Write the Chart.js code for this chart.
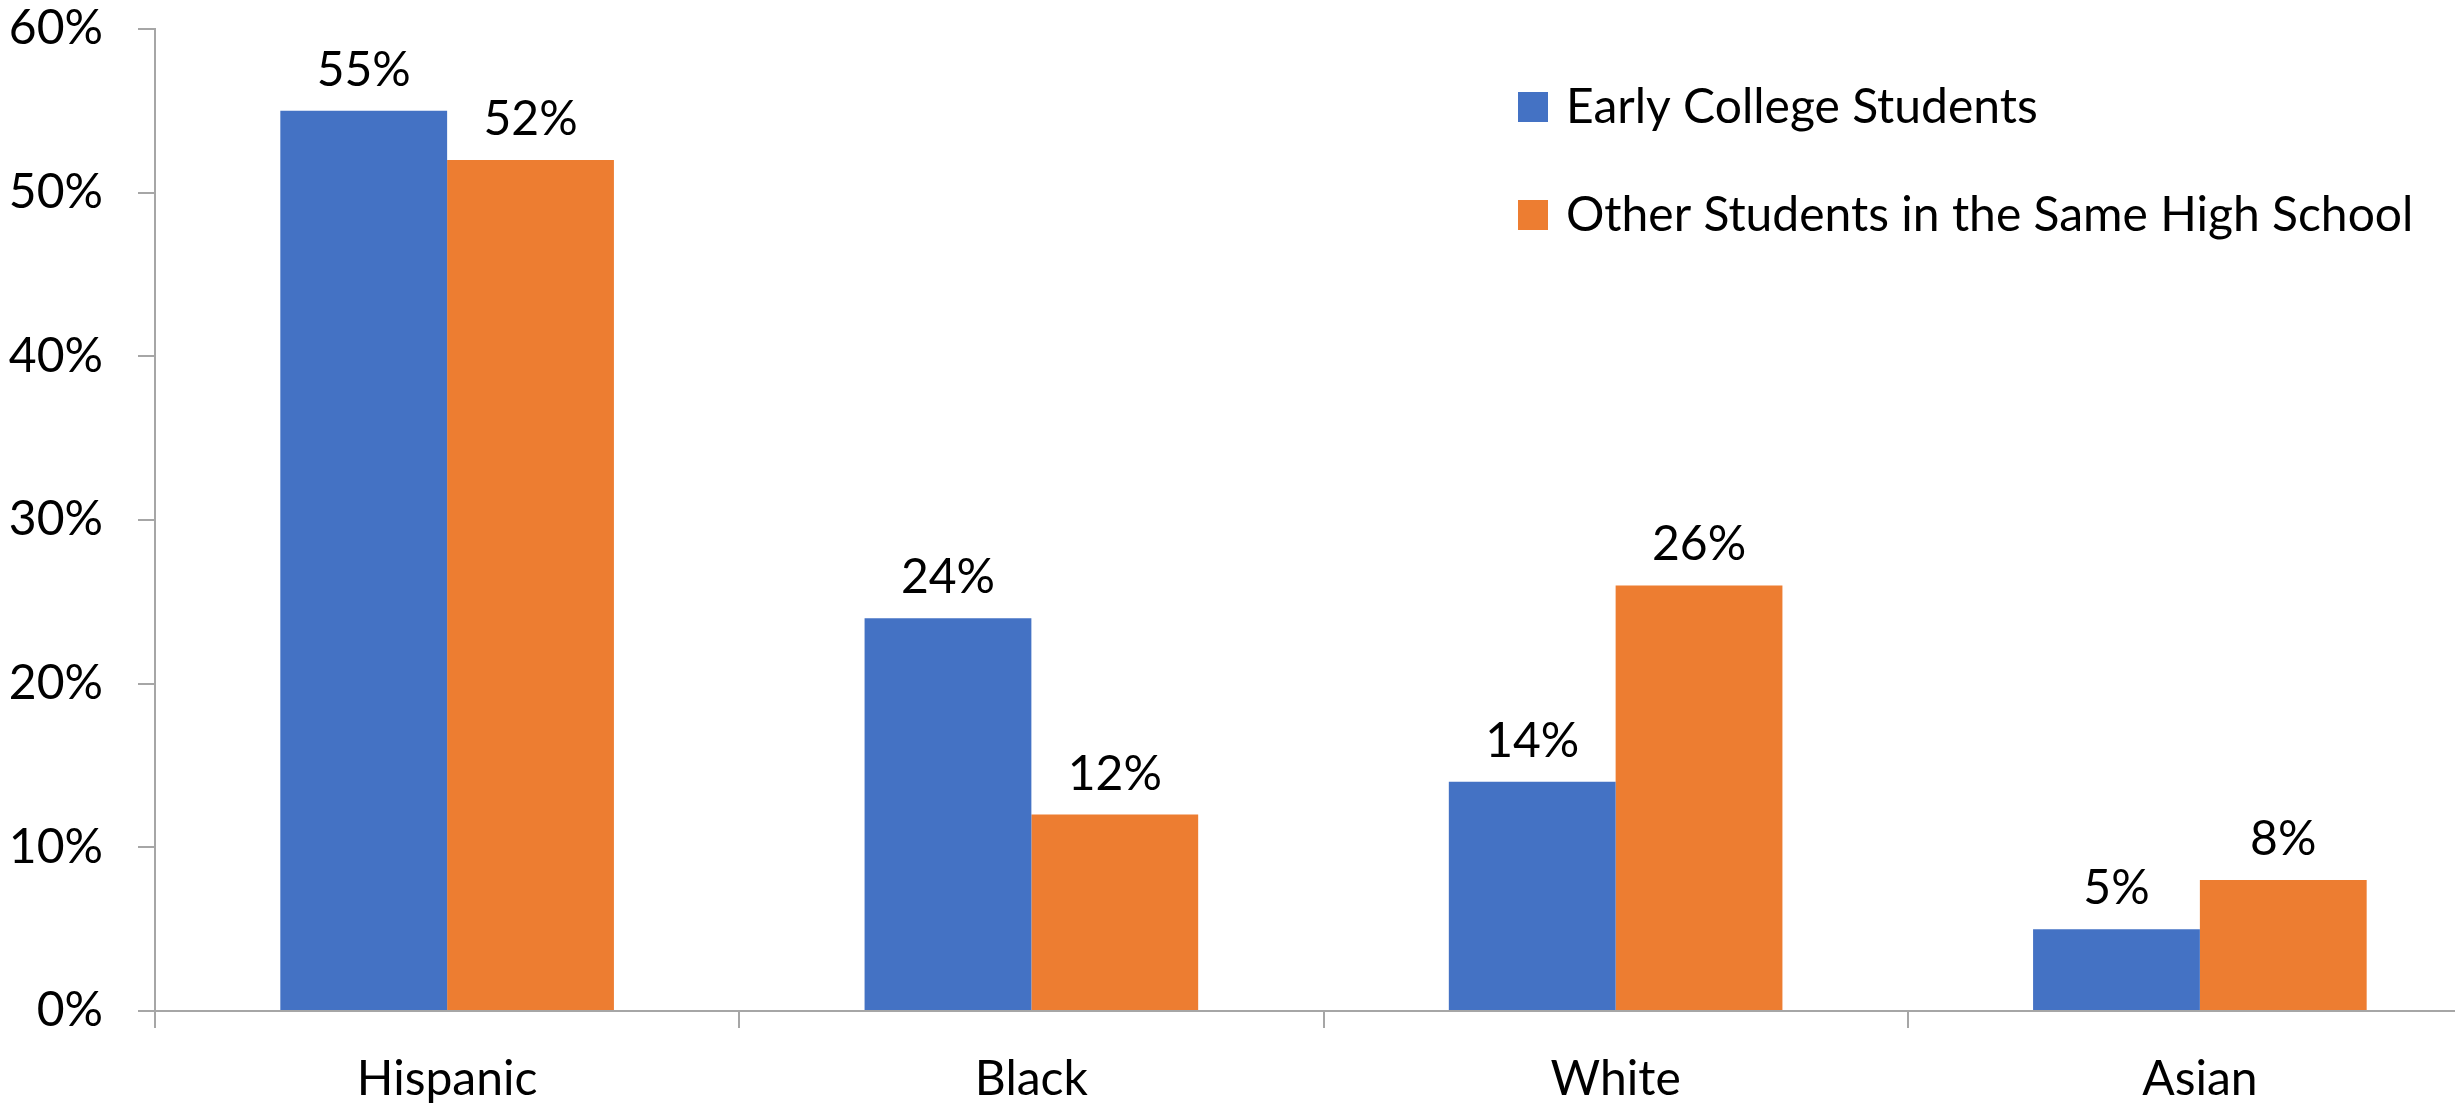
<!DOCTYPE html>
<html>
<head>
<meta charset="utf-8">
<script src="https://cdn.jsdelivr.net/npm/chart.js@4/dist/chart.umd.min.js"></script>
<style>
  html, body { margin: 0; padding: 0; background: #fff; overflow: hidden; }
  #wrap { width: 2455px; height: 1106px; overflow: hidden; }
</style>
</head>
<body>
<div id="wrap"><canvas id="chart" width="2500" height="1106"></canvas></div>
<script>
var categories = ['Hispanic', 'Black', 'White', 'Asian'];
var earlyCollege = [55, 24, 14, 5];
var otherStudents = [52, 12, 26, 8];
var seriesNames = ['Early College Students', 'Other Students in the Same High School'];
var yTicks = [0, 10, 20, 30, 40, 50, 60];

var axisGray = '#a6a6a6';
var fontName = 'Lato, "Open Sans", sans-serif';

// value labels above each bar
var barLabels = {
  id: 'barLabels',
  afterDatasetsDraw: function(chart) {
    var ctx = chart.ctx;
    ctx.save();
    ctx.font = '48px ' + fontName;
    ctx.fillStyle = '#000';
    ctx.textAlign = 'center';
    ctx.textBaseline = 'alphabetic';
    chart.data.datasets.forEach(function(ds, i) {
      chart.getDatasetMeta(i).data.forEach(function(bar, j) {
        ctx.fillText(ds.data[j] + '%', bar.x, bar.y - 25);
      });
    });
    ctx.restore();
  }
};

// legend drawn inside the plot, top right
var insideLegend = {
  id: 'insideLegend',
  afterDraw: function(chart) {
    var ctx = chart.ctx;
    ctx.save();
    ctx.font = '48px ' + fontName;
    ctx.textAlign = 'left';
    ctx.textBaseline = 'alphabetic';
    chart.data.datasets.forEach(function(ds, i) {
      var top = 92 + i * 108;
      ctx.fillStyle = ds.backgroundColor;
      ctx.fillRect(1518, top, 30, 30);
      ctx.fillStyle = '#000';
      ctx.fillText(ds.label, 1566, top + 31);
    });
    ctx.restore();
  }
};

new Chart(document.getElementById('chart'), {
  type: 'bar',
  data: {
    labels: categories,
    datasets: [
      { label: seriesNames[0], data: earlyCollege, backgroundColor: '#4472C4',
        categoryPercentage: 0.571, barPercentage: 1.0 },
      { label: seriesNames[1], data: otherStudents, backgroundColor: '#ED7D31',
        categoryPercentage: 0.571, barPercentage: 1.0 }
    ]
  },
  options: {
    responsive: false,
    animation: false,
    devicePixelRatio: 1,
    layout: { padding: { top: 29, right: 8, left: 0, bottom: 0 } },
    plugins: {
      legend: { display: false },
      tooltip: { enabled: false }
    },
    scales: {
      x: {
        grid: { display: true, drawOnChartArea: false, drawTicks: true, tickLength: 17,
                color: axisGray, lineWidth: 2 },
        border: { display: true, color: axisGray, width: 2 },
        ticks: { font: { family: fontName, size: 48 }, color: '#000', padding: 23 },
        afterFit: function(s) { s.height = 95; s.paddingLeft = 0; s.paddingRight = 0; }
      },
      y: {
        min: 0,
        max: 60,
        afterBuildTicks: function(s) { s.ticks = yTicks.map(function(v) { return { value: v }; }); },
        grid: { display: true, drawOnChartArea: false, drawTicks: true, tickLength: 17,
                color: axisGray, lineWidth: 2 },
        border: { display: true, color: axisGray, width: 2 },
        ticks: {
          font: { family: fontName, size: 48 }, color: '#000', padding: 35,
          callback: function(v) { return v + '%'; }
        },
        afterFit: function(s) { s.width = 155; s.paddingTop = 0; s.paddingBottom = 0; }
      }
    }
  },
  plugins: [barLabels, insideLegend]
});
</script>
</body>
</html>
